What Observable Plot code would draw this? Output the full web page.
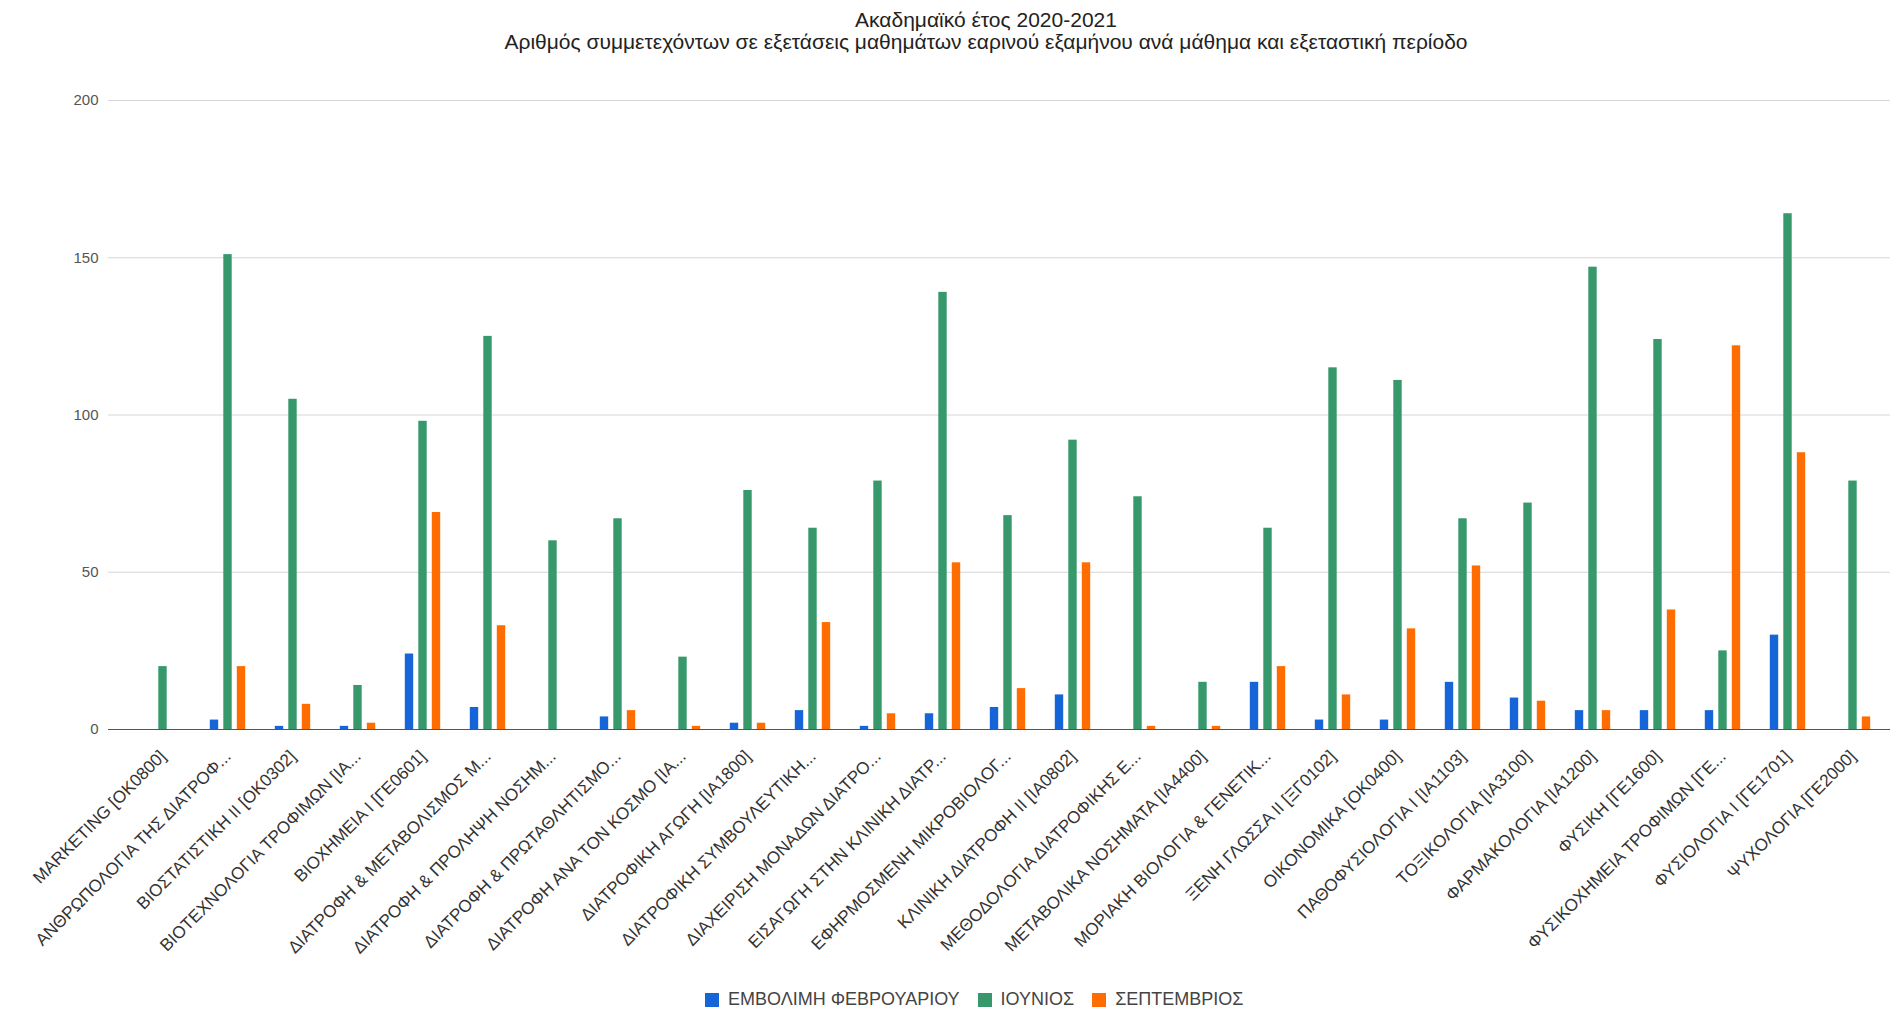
<!DOCTYPE html>
<html><head><meta charset="utf-8">
<script src="https://cdn.jsdelivr.net/npm/d3@7"></script>
<script src="https://cdn.jsdelivr.net/npm/@observablehq/plot@0.6"></script>
<style>
body{margin:0;background:#fff;font-family:"Liberation Sans",Arial,sans-serif;}
#wrap{width:1890px;height:1009px;position:relative;overflow:hidden;background:#fff}
#title{position:absolute;left:986px;top:9px;transform:translateX(-50%);text-align:center;white-space:nowrap;font-size:21px;line-height:22px;color:#222}
#chart{position:absolute;left:0;top:60px}
#legend{position:absolute;left:705px;top:983px;}
</style></head>
<body><div id="wrap">
<div id="title"><div>Ακαδημαϊκό έτος 2020-2021</div><div>Αριθμός συμμετεχόντων σε εξετάσεις μαθημάτων εαρινού εξαμήνου ανά μάθημα και εξεταστική περίοδο</div></div>
<div id="chart"></div>
<div id="legend"></div>
</div>
<script>
const courses = [
  "MARKETING [ΟΚ0800]",
  "ΑΝΘΡΩΠΟΛΟΓΙΑ ΤΗΣ ΔΙΑΤΡΟΦ...",
  "ΒΙΟΣΤΑΤΙΣΤΙΚΗ ΙΙ [ΟΚ0302]",
  "ΒΙΟΤΕΧΝΟΛΟΓΙΑ ΤΡΟΦΙΜΩΝ [ΙΑ...",
  "ΒΙΟΧΗΜΕΙΑ Ι [ΓΕ0601]",
  "ΔΙΑΤΡΟΦΗ & ΜΕΤΑΒΟΛΙΣΜΟΣ Μ...",
  "ΔΙΑΤΡΟΦΗ & ΠΡΟΛΗΨΗ ΝΟΣΗΜ...",
  "ΔΙΑΤΡΟΦΗ & ΠΡΩΤΑΘΛΗΤΙΣΜΟ...",
  "ΔΙΑΤΡΟΦΗ ΑΝΑ ΤΟΝ ΚΟΣΜΟ [ΙΑ...",
  "ΔΙΑΤΡΟΦΙΚΗ ΑΓΩΓΗ [ΙΑ1800]",
  "ΔΙΑΤΡΟΦΙΚΗ ΣΥΜΒΟΥΛΕΥΤΙΚΗ...",
  "ΔΙΑΧΕΙΡΙΣΗ ΜΟΝΑΔΩΝ ΔΙΑΤΡΟ...",
  "ΕΙΣΑΓΩΓΗ ΣΤΗΝ ΚΛΙΝΙΚΗ ΔΙΑΤΡ...",
  "ΕΦΗΡΜΟΣΜΕΝΗ ΜΙΚΡΟΒΙΟΛΟΓ...",
  "ΚΛΙΝΙΚΗ ΔΙΑΤΡΟΦΗ ΙΙ [ΙΑ0802]",
  "ΜΕΘΟΔΟΛΟΓΙΑ ΔΙΑΤΡΟΦΙΚΗΣ Ε...",
  "ΜΕΤΑΒΟΛΙΚΑ ΝΟΣΗΜΑΤΑ [ΙΑ4400]",
  "ΜΟΡΙΑΚΗ ΒΙΟΛΟΓΙΑ & ΓΕΝΕΤΙΚ...",
  "ΞΕΝΗ ΓΛΩΣΣΑ ΙΙ [ΞΓ0102]",
  "ΟΙΚΟΝΟΜΙΚΑ [ΟΚ0400]",
  "ΠΑΘΟΦΥΣΙΟΛΟΓΙΑ Ι [ΙΑ1103]",
  "ΤΟΞΙΚΟΛΟΓΙΑ [ΙΑ3100]",
  "ΦΑΡΜΑΚΟΛΟΓΙΑ [ΙΑ1200]",
  "ΦΥΣΙΚΗ [ΓΕ1600]",
  "ΦΥΣΙΚΟΧΗΜΕΙΑ ΤΡΟΦΙΜΩΝ [ΓΕ...",
  "ΦΥΣΙΟΛΟΓΙΑ Ι [ΓΕ1701]",
  "ΨΥΧΟΛΟΓΙΑ [ΓΕ2000]"
];
const seriesNames = ["ΕΜΒΟΛΙΜΗ ΦΕΒΡΟΥΑΡΙΟΥ", "ΙΟΥΝΙΟΣ", "ΣΕΠΤΕΜΒΡΙΟΣ"];
const february = [0,3,1,1,24,7,0,4,0,2,6,1,5,7,11,0,0,15,3,3,15,10,6,6,6,30,0];
const june = [20,151,105,14,98,125,60,67,23,76,64,79,139,68,92,74,15,64,115,111,67,72,147,124,25,164,79];
const september = [0,20,8,2,69,33,0,6,1,2,34,5,53,13,53,1,1,20,11,32,52,9,6,38,122,88,4];
const yTicks = [0,50,100,150,200];
const colors = ["#1565d8", "#37996b", "#ff6d01"];

const seriesValues = [february, june, september];
const offsets = [-13.5, 0, 13.5];
const barMarks = seriesValues.map((vals, s) =>
  Plot.barY(courses.map((c, i) => ({course: c, value: vals[i], series: seriesNames[s]})), {
    x: "course", y: "value", fill: "series",
    dx: offsets[s], insetLeft: 28.3, insetRight: 28.3
  })
);

const chart = Plot.plot({
  width: 1890,
  height: 923,
  marginTop: 40,
  marginBottom: 254,
  marginLeft: 108,
  marginRight: 0,
  style: {fontFamily: '"Liberation Sans", Arial, sans-serif', fontSize: "17.2px", color: "#333", background: "#fff"},
  x: {domain: courses, range: [121.5, 1892.7], padding: 0, label: null},
  y: {domain: [0, 200], label: null},
  color: {domain: seriesNames, range: colors},
  marks: [
    Plot.gridY(yTicks.filter(d => d > 0), {stroke: "#d6d6d6", strokeOpacity: 1}),
    ...barMarks,
    Plot.ruleY([0], {stroke: "#555"}),
    Plot.axisY(yTicks, {tickSize: 0, tickPadding: 10, fill: "#555", label: null, fontSize: 15}),
    Plot.axisX({tickRotate: -45, tickSize: 0, tickPadding: 24, fill: "#333", label: null})
  ]
});
document.getElementById("chart").appendChild(chart);

const legend = Plot.legend({
  color: {domain: seriesNames, range: colors},
  legend: "swatches",
  swatchSize: 14,
  style: {fontFamily: '"Liberation Sans", Arial, sans-serif', fontSize: "18px", color: "#444"}
});
document.getElementById("legend").appendChild(legend);
</script>
</body></html>
